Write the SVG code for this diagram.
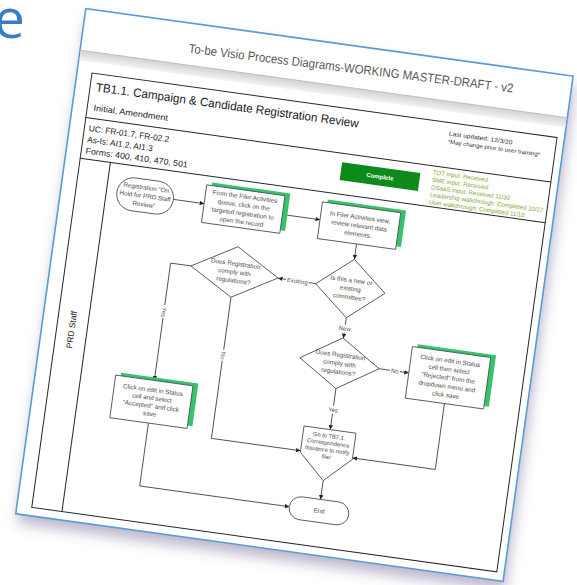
<svg xmlns="http://www.w3.org/2000/svg" width="577" height="585" viewBox="0 0 577 585">
<defs>
<style>
text{font-family:"Liberation Sans",Arial,sans-serif;}
.nt{font-size:6.3px;fill:#4a4a4a;text-anchor:middle}
.shape{fill:#fff;stroke:#555;stroke-width:0.9}
.gs{fill:#33c46c}
.con{fill:none;stroke:#4a4a4a;stroke-width:0.9;marker-end:url(#ah)}
.lbl{font-size:6px;fill:#555;text-anchor:middle}
.lbg{fill:#fff}
.st{font-size:6.1px;fill:#80aa38}
.frame{fill:none;stroke:#262626;stroke-width:1}
.hd{fill:#1a1a1a}
</style>
<marker id="ah" viewBox="0 0 10 10" refX="10" refY="5" markerWidth="4.5" markerHeight="4.5" orient="auto" markerUnits="userSpaceOnUse">
<path d="M0,0 L10,5 L0,10 z" fill="#222"/>
</marker>
<filter id="blur" x="-20%" y="-20%" width="140%" height="140%">
<feGaussianBlur stdDeviation="7"/>
</filter>
<linearGradient id="band" x1="0" y1="0" x2="0" y2="1">
<stop offset="0" stop-color="#d2d2d2"/>
<stop offset="1" stop-color="#f3f3f3"/>
</linearGradient>
</defs>
<rect width="577" height="585" fill="#fff"/>
<text x="-6" y="38" font-size="55" fill="#3b7dc4" style="font-family:'Open Sans',sans-serif">e</text>
<g id="page" transform="matrix(0.9905,0.1374,-0.1374,0.9905,85.8,8.54)">
<rect x="3" y="9" width="492" height="510" fill="#8e84a8" opacity="0.6" filter="url(#blur)"/>
<rect x="0" y="0" width="492" height="510" fill="#fff" stroke="#5b9bd5" stroke-width="1.6"/>
<text x="271" y="27" text-anchor="middle" font-size="12.5" fill="#595959" textLength="327" lengthAdjust="spacingAndGlyphs" transform="rotate(-0.9 271 27)">To-be Visio Process Diagrams-WORKING MASTER-DRAFT - v2</text>
<rect x="0.8" y="42" width="490.4" height="10" fill="url(#band)"/>
<line x1="0.8" y1="42" x2="491.2" y2="42" stroke="#b8b8b8" stroke-width="0.8"/>
<g id="header">
<rect class="frame" x="15" y="63" width="469.5" height="438.5"/>
<line class="frame" x1="15" y1="108" x2="484.5" y2="108"/>
<line class="frame" x1="15" y1="149" x2="484.5" y2="149"/>
<line class="frame" x1="45.5" y1="149" x2="45.5" y2="501.5"/>
<text class="hd" x="21" y="80.5" font-size="12" textLength="265" lengthAdjust="spacingAndGlyphs">TB1.1. Campaign &amp; Candidate Registration Review</text>
<text class="hd" x="21.5" y="100" font-size="8.5" textLength="75" lengthAdjust="spacingAndGlyphs">Initial, Amendment</text>
<text class="hd" x="19.5" y="121" font-size="8.5" textLength="81" lengthAdjust="spacingAndGlyphs">UC: FR-01.7, FR-02.2</text>
<text class="hd" x="19.5" y="132.3" font-size="8.5" textLength="66" lengthAdjust="spacingAndGlyphs">As-Is: AI1.2, AI1.3</text>
<text class="hd" x="19.5" y="143.6" font-size="8.5" textLength="103" lengthAdjust="spacingAndGlyphs">Forms: 400, 410, 470, 501</text>
<text x="377" y="76" font-size="6" fill="#333" textLength="64" lengthAdjust="spacingAndGlyphs">Last updated: 12/3/20</text>
<text x="377" y="84" font-size="5.8" fill="#333" textLength="93" lengthAdjust="spacingAndGlyphs">*May change prior to user training*</text>
<rect x="275" y="117" width="79" height="18" fill="#0c8a1a"/>
<text x="314.5" y="128.2" font-size="6" font-weight="bold" fill="#fff" text-anchor="middle">Complete</text>
<text class="st" x="366.5" y="116.5">TOT input: Received</text>
<text class="st" x="366.5" y="124">SME input: Received</text>
<text class="st" x="366.5" y="131.5">OSaaS input: Received 11/30</text>
<text class="st" x="366.5" y="139">Leadership walkthrough: Completed 10/27</text>
<text class="st" x="366.5" y="146.5">User walkthrough: Completed 11/10</text>
<text class="hd" transform="translate(33,320) rotate(-90)" text-anchor="middle" font-size="8.5">PRD Staff</text>
</g>
<g id="connectors">
<path class="con" d="M113,177 L144,177"/>
<path class="con" d="M223,177 L261,177"/>
<path class="con" d="M300.5,196 L300.5,211.5"/>
<path class="con" d="M265.5,240.8 L227.5,240.8"/>
<path class="con" d="M139.5,240.5 L119,240.5 L119,359"/>
<path class="con" d="M183.5,266 L183.5,408.5 L273.5,408.5"/>
<path class="con" d="M300.5,270.5 L300.5,291"/>
<path class="con" d="M340,316.5 L370,316.5"/>
<path class="con" d="M300,342 L300,383.5"/>
<path class="con" d="M409.5,342 L409.5,408.5 L326,408.5"/>
<path class="con" d="M300,435 L300,454"/>
<path class="con" d="M119,402 L119,465.5 L270,465.5"/>
<g id="lbl-existing"><rect class="lbg" x="235.5" y="237" width="23" height="8"/><text class="lbl" x="247" y="243">Existing</text></g>
<g id="lbl-yes1"><rect class="lbg" x="115" y="283" width="8" height="13"/><text class="lbl" transform="translate(117,290) rotate(90)">Yes</text></g>
<g id="lbl-no1"><rect class="lbg" x="179.5" y="319" width="8" height="11"/><text class="lbl" transform="translate(181.5,325) rotate(90)">No</text></g>
<g id="lbl-new"><rect class="lbg" x="294" y="277.5" width="13" height="8"/><text class="lbl" x="300.5" y="283.5">New</text></g>
<g id="lbl-no2"><rect class="lbg" x="351" y="313" width="10" height="8"/><text class="lbl" x="356" y="318.7">No</text></g>
<g id="lbl-yes2"><rect class="lbg" x="294.5" y="359.5" width="11" height="8"/><text class="lbl" x="300" y="365.6">Yes</text></g>
</g>
<g id="start">
<rect class="shape" x="56" y="161" width="57" height="33" rx="16.5"/>
<text class="nt" x="84.5" y="171.2">Registration "On</text>
<text class="nt" x="84.5" y="179.7">Hold for PRD Staff</text>
<text class="nt" x="84.5" y="188.2">Review"</text>
</g>
<g id="box1">
<rect class="gs" x="149" y="155" width="79" height="38"/>
<rect class="shape" x="144" y="158" width="79" height="38"/>
<text class="nt" x="183.5" y="166.5">From the Filer Activities</text>
<text class="nt" x="183.5" y="175">queue, click on the</text>
<text class="nt" x="183.5" y="183.5">targeted registration to</text>
<text class="nt" x="183.5" y="192">open the record</text>
</g>
<g id="box2">
<rect class="gs" x="266" y="156" width="79" height="37"/>
<rect class="shape" x="261" y="159" width="79" height="37"/>
<text class="nt" x="300.5" y="171.2">In Filer Activities view,</text>
<text class="nt" x="300.5" y="179.7">review relevant data</text>
<text class="nt" x="300.5" y="188.2">elements.</text>
</g>
<g id="decision-new">
<polygon class="shape" points="300.5,211.5 335.5,241 300.5,270.5 265.5,241"/>
<text class="nt" x="300.5" y="234.7">Is this a new or</text>
<text class="nt" x="300.5" y="243.2">existing</text>
<text class="nt" x="300.5" y="251.7">committee?</text>
</g>
<g id="decision-comply1">
<polygon class="shape" points="183.5,215 227.5,240.5 183.5,266 139.5,240.5"/>
<text class="nt" x="183.5" y="234.2">Does Registration</text>
<text class="nt" x="183.5" y="242.7">comply with</text>
<text class="nt" x="183.5" y="251.2">regulations?</text>
</g>
<g id="decision-comply2">
<polygon class="shape" points="300,291 340,316.5 300,342 260,316.5"/>
<text class="nt" x="300" y="310.2">Does Registration</text>
<text class="nt" x="300" y="318.7">comply with</text>
<text class="nt" x="300" y="327.2">regulations?</text>
</g>
<g id="box-accepted">
<rect class="gs" x="85" y="356" width="78" height="43"/>
<rect class="shape" x="80" y="359" width="78" height="43"/>
<text class="nt" x="119" y="370.7">Click on edit in Status</text>
<text class="nt" x="119" y="378.7">cell and select</text>
<text class="nt" x="119" y="386.7">"Accepted" and click</text>
<text class="nt" x="119" y="394.7">save</text>
</g>
<g id="box-rejected">
<rect class="gs" x="375" y="287" width="79" height="52"/>
<rect class="shape" x="370" y="290" width="79" height="52"/>
<text class="nt" x="409.5" y="301">Click on edit in Status</text>
<text class="nt" x="409.5" y="309.6">cell then select</text>
<text class="nt" x="409.5" y="318.2">"Rejected" from the</text>
<text class="nt" x="409.5" y="326.8">dropdown menu and</text>
<text class="nt" x="409.5" y="335.4">click save</text>
</g>
<g id="goto">
<polygon class="shape" points="273.5,383.5 326,383.5 326,410 300,435 273.5,410"/>
<text class="nt" x="299.8" y="392" style="font-size:5.8px">Go to TB7.1.</text>
<text class="nt" x="299.8" y="399" style="font-size:5.8px">Correspondence</text>
<text class="nt" x="299.8" y="406" style="font-size:5.8px">Issuance to notify</text>
<text class="nt" x="299.8" y="413" style="font-size:5.8px">filer</text>
</g>
<g id="end">
<rect class="shape" x="270" y="454" width="60" height="23" rx="11.5"/>
<text class="nt" x="300" y="467.7">End</text>
</g>
</g>
</svg>
